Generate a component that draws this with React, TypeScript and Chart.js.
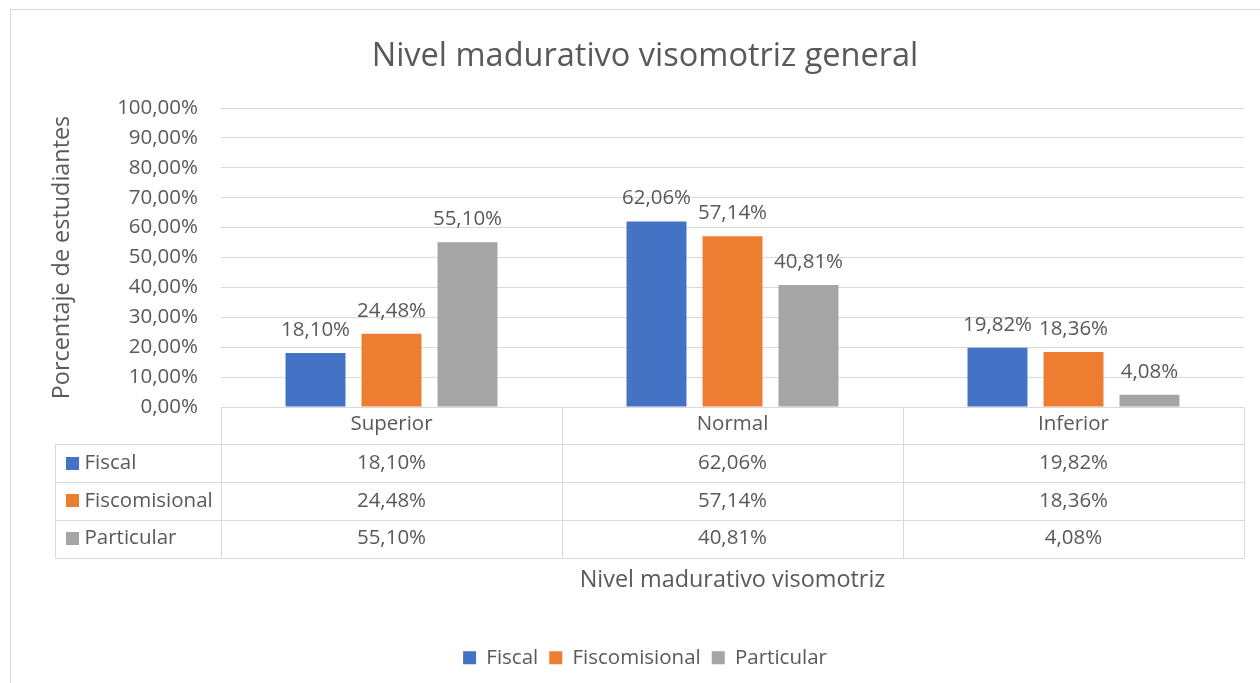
import React, { useEffect, useRef } from "react";
import { Chart, registerables } from "chart.js";

Chart.register(...registerables);

const chartTitle = "Nivel madurativo visomotriz general";
const xAxisTitle = "Nivel madurativo visomotriz";
const yAxisTitle = "Porcentaje de estudiantes";
const categories = ["Superior", "Normal", "Inferior"];
const seriesNames = ["Fiscal", "Fiscomisional", "Particular"];
const fiscal = [18.1, 62.06, 19.82];
const fiscomisional = [24.48, 57.14, 18.36];
const particular = [55.1, 40.81, 4.08];
const seriesColors = ["#4472C4", "#ED7D31", "#A5A5A5"];
const yMin = 0;
const yMax = 100;
const yStep = 10;

const FONT = "'Open Sans'";
const TEXT = "#595959";
const LINE = "#D9D9D9";
const SMALL = 20.5;
const TITLE = 32.5;
const AXIS = 23.4;

const fmt = (v: number) => v.toFixed(2).replace(".", ",") + "%";

const borderPlugin = {
  id: "chartBorder",
  beforeDraw(chart: any) {
    const { ctx, width, height } = chart;
    ctx.save();
    ctx.fillStyle = "#FFFFFF";
    ctx.fillRect(0, 0, width, height);
    ctx.strokeStyle = LINE;
    ctx.lineWidth = 1;
    ctx.strokeRect(10.5, 9.5, width + 50, height + 50);
    ctx.restore();
  },
};

const dataLabelPlugin = {
  id: "dataLabels",
  afterDatasetsDraw(chart: any) {
    const { ctx } = chart;
    ctx.save();
    ctx.font = `${SMALL}px ${FONT}`;
    ctx.fillStyle = TEXT;
    ctx.textAlign = "center";
    ctx.textBaseline = "alphabetic";
    chart.data.datasets.forEach((ds: any, i: number) => {
      const meta = chart.getDatasetMeta(i);
      meta.data.forEach((bar: any, j: number) => {
        ctx.fillText(fmt(ds.data[j]), bar.x, bar.y - 17);
      });
    });
    ctx.restore();
  },
};

const dataTablePlugin = {
  id: "dataTable",
  afterDraw(chart: any) {
    const { ctx, chartArea } = chart;
    const xs = chart.scales.x;
    const n = categories.length;
    const catW = (chartArea.right - chartArea.left) / n;
    const rowH = 37.75;
    const top = chartArea.bottom - 0.5;
    const tableLeft = 55.5;
    const rows = chart.data.datasets.length;
    const yAt = (k: number) => Math.round(top + k * rowH) + 0.5;
    const bottom = yAt(rows + 1);

    ctx.save();
    ctx.strokeStyle = LINE;
    ctx.lineWidth = 1;
    ctx.beginPath();
    ctx.moveTo(Math.round(chartArea.left) + 0.5, yAt(0));
    ctx.lineTo(Math.round(chartArea.right) + 0.5, yAt(0));
    for (let k = 1; k <= rows + 1; k++) {
      ctx.moveTo(tableLeft, yAt(k));
      ctx.lineTo(Math.round(chartArea.right) + 0.5, yAt(k));
    }
    for (let i = 0; i <= n; i++) {
      const x = Math.round(chartArea.left + i * catW) + 0.5;
      ctx.moveTo(x, yAt(0));
      ctx.lineTo(x, bottom);
    }
    ctx.moveTo(tableLeft, yAt(1));
    ctx.lineTo(tableLeft, bottom);
    ctx.stroke();

    ctx.font = `${SMALL}px ${FONT}`;
    ctx.textBaseline = "middle";
    chart.data.datasets.forEach((ds: any, r: number) => {
      const cy = top + (r + 1.5) * rowH;
      ctx.fillStyle = seriesColors[r];
      ctx.fillRect(66, Math.round(cy - 6.5), 13, 13);
      ctx.fillStyle = TEXT;
      ctx.textAlign = "left";
      ctx.fillText(ds.label, 84.5, cy);
      ctx.textAlign = "center";
      ds.data.forEach((v: number, c: number) => {
        ctx.fillText(fmt(v), xs.getPixelForValue(c), cy);
      });
    });
    ctx.restore();
  },
};

export default function App() {
  const canvasRef = useRef<HTMLCanvasElement | null>(null);

  useEffect(() => {
    if (!canvasRef.current) return;
    Chart.defaults.font.family = FONT;
    Chart.defaults.color = TEXT;
    const seriesValues = [fiscal, fiscomisional, particular];
    const chart = new Chart(canvasRef.current, {
      type: "bar",
      data: {
        labels: categories,
        datasets: seriesNames.map((name, i) => ({
          label: name,
          data: seriesValues[i],
          backgroundColor: seriesColors[i],
          borderWidth: 0,
          categoryPercentage: 0.6686,
          barPercentage: 0.789,
        })),
      },
      options: {
        responsive: false,
        animation: false,
        events: [],
        layout: { padding: { left: 46, right: 16, top: 0, bottom: 5 } },
        plugins: {
          title: {
            display: true,
            text: chartTitle,
            color: TEXT,
            font: { size: TITLE, weight: "normal", family: FONT },
            padding: { top: 37, bottom: 108 - 37 - TITLE * 1.2 },
          },
          legend: {
            display: true,
            position: "bottom",
            labels: {
              boxWidth: 13,
              boxHeight: 13,
              padding: 11,
              color: TEXT,
              font: { size: SMALL, family: FONT },
            },
          },
          tooltip: { enabled: false },
        },
        scales: {
          x: {
            grid: { display: false, drawTicks: false },
            border: { display: false },
            ticks: { color: TEXT, font: { size: SMALL }, padding: 5 },
            title: {
              display: true,
              text: xAxisTitle,
              color: TEXT,
              font: { size: AXIS, family: FONT },
              padding: { top: 0, bottom: 42 },
            },
            afterFit(scale: any) {
              scale.height = 229.5;
            },
          },
          y: {
            min: yMin,
            max: yMax,
            grid: { color: LINE, drawTicks: false, lineWidth: 1 },
            border: { display: false },
            ticks: {
              stepSize: yStep,
              color: TEXT,
              font: { size: SMALL },
              padding: 23,
              callback: (v: any) => fmt(Number(v)),
            },
            title: {
              display: true,
              text: yAxisTitle,
              color: TEXT,
              font: { size: AXIS, family: FONT },
              padding: { top: 2, bottom: 0 },
            },
            afterFit(scale: any) {
              scale.width = 175;
            },
          },
        },
      },
      plugins: [borderPlugin, dataLabelPlugin, dataTablePlugin],
    } as any);
    return () => chart.destroy();
  }, []);

  return (
    <div style={{ position: "fixed", left: 0, top: 0, width: 1260, height: 683, background: "#fff" }}>
      <canvas ref={canvasRef} width={1260} height={683} style={{ display: "block" }} />
    </div>
  );
}
